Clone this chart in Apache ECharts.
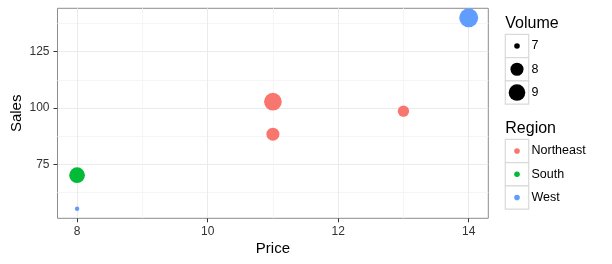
<!DOCTYPE html>
<html>
<head>
<meta charset="utf-8">
<script src="https://cdn.jsdelivr.net/npm/echarts@6/dist/echarts.min.js"></script>
<style>html,body{margin:0;padding:0;background:#fff;}#c{width:612px;height:264px;}</style>
</head>
<body>
<div id="c"></div>
<script>
// ---- data ----
const price  = [8, 14, 8, 11, 11, 13];
const sales  = [55.3, 140, 70.2, 102.8, 88.4, 98.6];
const volume = [6.98, 9.85, 8.7, 9.37, 7.98, 7.62];
const region = ['West', 'West', 'South', 'Northeast', 'Northeast', 'Northeast'];
const regions = ['Northeast', 'South', 'West'];
const regionColors = ['#F8766D', '#00BA38', '#619CFF'];
const volumeBreaks = [7, 8, 9];
const xTicks = [8, 10, 12, 14];
const xMinor = [9, 11, 13];
const yTicks = [75, 100, 125];
const yMinor = [62.5, 87.5, 112.5, 137.5];

// ---- scales ----
const vmin = Math.min(...volume), vmax = Math.max(...volume);
const K = 2.92;
function dia(v) {
  const t = Math.max(0, (v - vmin) / (vmax - vmin));
  return K * (1 + 5 * Math.sqrt(t) + 0.5);
}
function expand(arr) {
  const lo = Math.min(...arr), hi = Math.max(...arr), d = (hi - lo) * 0.05;
  return [lo - d, hi + d];
}
const xr = expand(price), yr = expand(sales);

const FONT = 'Liberation Sans, Arial, sans-serif';

const series = regions.map((r, ri) => ({
  type: 'scatter',
  name: r,
  xAxisIndex: 0, yAxisIndex: 0,
  data: price.map((p, i) => region[i] === r ? [p, sales[i], volume[i]] : null).filter(Boolean),
  symbolSize: d => dia(d[2]),
  itemStyle: { color: regionColors[ri], opacity: 1 },
  emphasis: { disabled: true },
  z: 5
}));

// ---- legend graphics ----
const LX = 505.3, KW = 23.4, KH = 23.3;
const graphic = [];
graphic.push({ type: 'text', left: LX, top: 15.5, style: { text: 'Volume', font: '16px ' + FONT, fill: '#000' } });
volumeBreaks.forEach((v, i) => {
  const y0 = 34.3 + i * KH;
  graphic.push({ type: 'rect', shape: { x: LX, y: y0, width: KW, height: KH }, style: { fill: '#fff', stroke: '#D9D9D9', lineWidth: 1.2 } });
  graphic.push({ type: 'circle', shape: { cx: LX + KW / 2, cy: y0 + KH / 2, r: dia(v) / 2 }, style: { fill: '#000' } });
  graphic.push({ type: 'text', x: 531.5, y: y0 + KH / 2, style: { text: String(v), font: '12.5px ' + FONT, fill: '#000', verticalAlign: 'middle', align: 'left' } });
});
graphic.push({ type: 'text', left: LX, top: 120.5, style: { text: 'Region', font: '16px ' + FONT, fill: '#000' } });
regions.forEach((r, i) => {
  const y0 = 139.3 + i * KH;
  graphic.push({ type: 'rect', shape: { x: LX, y: y0, width: KW, height: KH }, style: { fill: '#fff', stroke: '#D9D9D9', lineWidth: 1.2 } });
  graphic.push({ type: 'circle', shape: { cx: LX + KW / 2, cy: y0 + KH / 2, r: 2.8 }, style: { fill: regionColors[i] } });
  graphic.push({ type: 'text', x: 531.5, y: y0 + KH / 2, style: { text: r, font: '12.5px ' + FONT, fill: '#000', verticalAlign: 'middle', align: 'left' } });
});

const axisLabelStyle = { color: '#333333', fontSize: 12, fontFamily: FONT };

const option = {
  animation: false,
  backgroundColor: '#fff',
  grid: { left: 57.5, right: 123.7, top: 8.3, bottom: 45.7, show: true, borderColor: '#8C8C8C', borderWidth: 1, backgroundColor: '#fff', containLabel: false, outerBoundsMode: 'none' },
  xAxis: [
    {
      type: 'value', min: xr[0], max: xr[1],
      name: 'Price', nameLocation: 'middle', nameGap: 23.5, nameMoveOverlap: false,
      nameTextStyle: { fontSize: 15, fontFamily: FONT, color: '#000', verticalAlign: 'top' },
      axisLine: { show: false },
      axisTick: { show: true, length: 4, customValues: xTicks, lineStyle: { color: '#333', width: 1 } },
      axisLabel: { customValues: xTicks, margin: 7, ...axisLabelStyle },
      splitLine: { show: true, lineStyle: { color: '#EBEBEB', width: 1 } }
    },
    {
      type: 'value', min: xr[0], max: xr[1], position: 'bottom',
      axisLine: { show: false },
      axisTick: { show: false, customValues: xMinor },
      axisLabel: { show: false, customValues: xMinor },
      splitLine: { show: true, lineStyle: { color: '#F5F5F5', width: 1 } }
    }
  ],
  yAxis: [
    {
      type: 'value', min: yr[0], max: yr[1],
      name: 'Sales', nameLocation: 'middle', nameGap: 33, nameMoveOverlap: false,
      nameTextStyle: { fontSize: 15, fontFamily: FONT, color: '#000', verticalAlign: 'bottom' },
      axisLine: { show: false },
      axisTick: { show: true, length: 4, customValues: yTicks, lineStyle: { color: '#333', width: 1 } },
      axisLabel: { customValues: yTicks, margin: 8, ...axisLabelStyle },
      splitLine: { show: true, lineStyle: { color: '#EBEBEB', width: 1 } }
    },
    {
      type: 'value', min: yr[0], max: yr[1], position: 'left',
      axisLine: { show: false },
      axisTick: { show: false, customValues: yMinor },
      axisLabel: { show: false, customValues: yMinor },
      splitLine: { show: true, lineStyle: { color: '#F5F5F5', width: 1 } }
    }
  ],
  series: series,
  graphic: graphic
};

const chart = echarts.init(document.getElementById('c'), null, { renderer: 'canvas' });
chart.setOption(option);
</script>
</body>
</html>
